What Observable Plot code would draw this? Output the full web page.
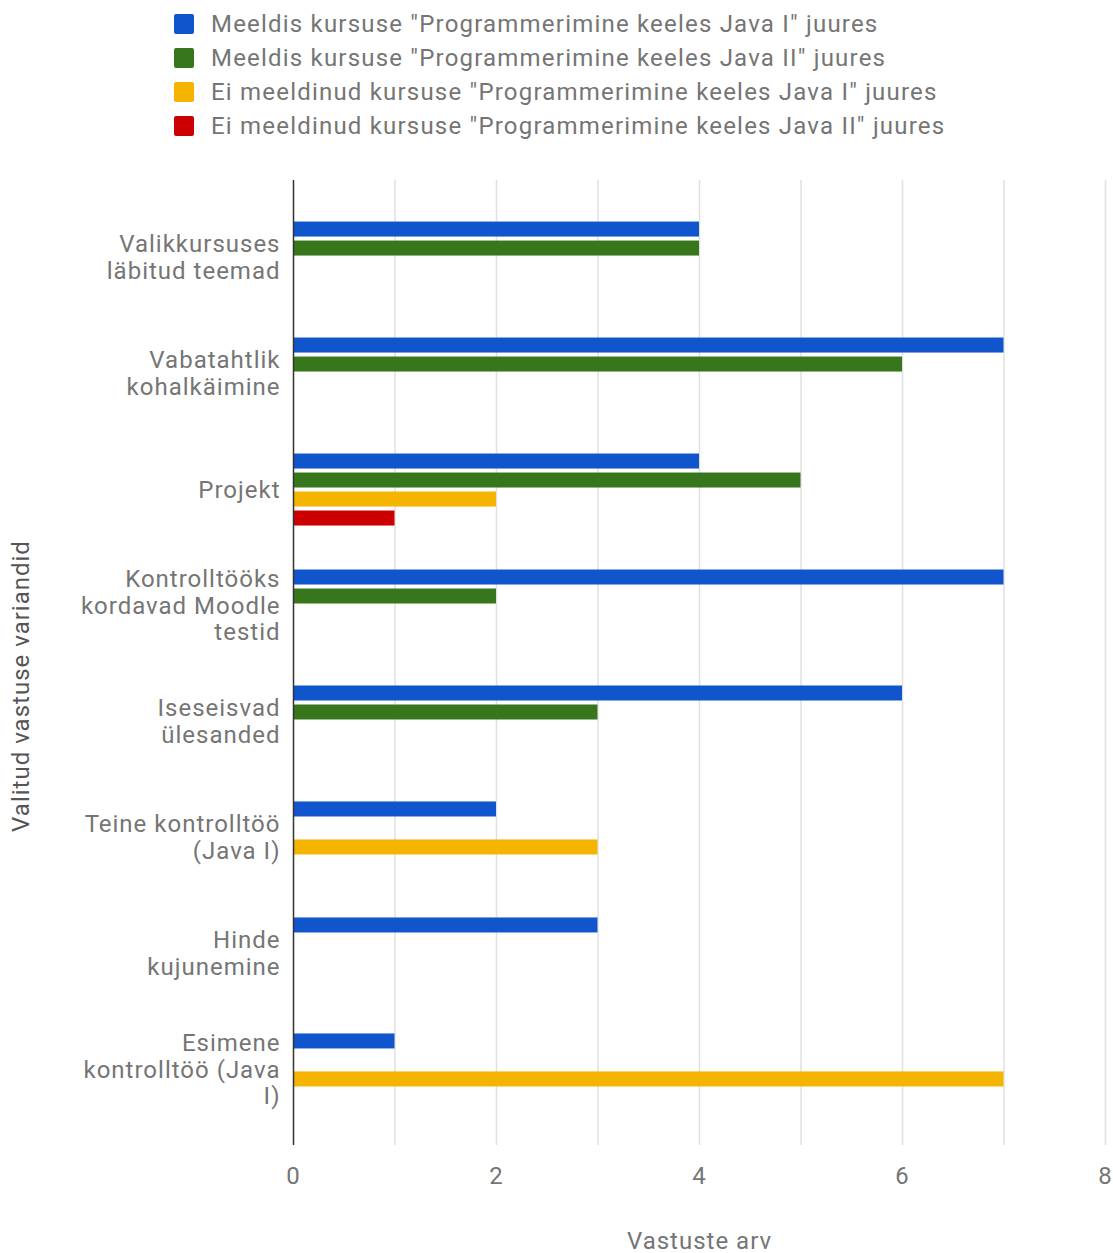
<!DOCTYPE html>
<html>
<head>
<meta charset="utf-8">
<script src="https://cdn.jsdelivr.net/npm/d3@7"></script>
<script src="https://cdn.jsdelivr.net/npm/@observablehq/plot@0.6"></script>
<style>
  html, body { margin: 0; padding: 0; background: #fff; }
  body { font-family: Roboto, "Noto Sans", sans-serif; }
  #wrap { position: relative; width: 1113px; height: 1253px; }
  #legend { position: absolute; left: 174px; top: 7px; }
  .li { display: flex; align-items: center; height: 34px; font-size: 24px; letter-spacing: 1.2px; color: #757575; white-space: nowrap; }
  .sw { width: 20px; height: 20px; border-radius: 2px; margin-right: 17px; flex: none; }
  #ytitle { position: absolute; left: 21px; top: 686px; transform: translate(-50%, -50%) rotate(-90deg); font-size: 24px; letter-spacing: 1px; color: #555; white-space: nowrap; }
  #chart { position: absolute; left: 0; top: 0; }
</style>
</head>
<body>
<div id="wrap">
  <div id="chart"></div>
  <div id="legend"></div>
  <div id="ytitle">Valitud vastuse variandid</div>
</div>
<script>
const categories = [
  "Valikkursuses\nläbitud teemad",
  "Vabatahtlik\nkohalkäimine",
  "Projekt",
  "Kontrolltööks\nkordavad Moodle\ntestid",
  "Iseseisvad\nülesanded",
  "Teine kontrolltöö\n(Java I)",
  "Hinde\nkujunemine",
  "Esimene\nkontrolltöö (Java\nI)"
];
const seriesNames = [
  "Meeldis kursuse \"Programmerimine keeles Java I\" juures",
  "Meeldis kursuse \"Programmerimine keeles Java II\" juures",
  "Ei meeldinud kursuse \"Programmerimine keeles Java I\" juures",
  "Ei meeldinud kursuse \"Programmerimine keeles Java II\" juures"
];
const seriesColors = ["#1155cc", "#38761d", "#f4b400", "#cc0000"];
const likedJava1    = [4, 7, 4, 7, 6, 2, 3, 1];
const likedJava2    = [4, 6, 5, 2, 3, 0, 0, 0];
const dislikedJava1 = [0, 0, 2, 0, 0, 3, 0, 7];
const dislikedJava2 = [0, 0, 1, 0, 0, 0, 0, 0];
const xTicks = [0, 2, 4, 6, 8];
const gridValues = [1, 2, 3, 4, 5, 6, 7, 8];

const seriesValues = [likedJava1, likedJava2, dislikedJava1, dislikedJava2];

// legend
const legend = document.getElementById("legend");
seriesNames.forEach((name, i) => {
  const row = document.createElement("div");
  row.className = "li";
  const sw = document.createElement("span");
  sw.className = "sw";
  sw.style.background = seriesColors[i];
  const t = document.createElement("span");
  t.textContent = name;
  row.appendChild(sw);
  row.appendChild(t);
  legend.appendChild(row);
});

const W = 1113, H = 1253;
const mTop = 180, mBottom = 108;
const pad = 0.32;
const innerH = H - mTop - mBottom;
const step = innerH / (categories.length - pad + 2 * pad);
const bw = step * (1 - pad);
const slot = 19;
const barH = 15;
const gap0 = (bw - 4 * slot) / 2 + (slot - barH) / 2 + 1;

const barMarks = seriesValues.map((vals, j) => {
  const data = categories.map((c, i) => ({cat: c, value: vals[i]})).filter(d => d.value > 0);
  const top = gap0 + j * slot;
  return Plot.barX(data, {
    x: "value", y: "cat", fill: seriesColors[j],
    insetTop: top, insetBottom: bw - top - barH
  });
});

const chart = Plot.plot({
  width: W,
  height: H,
  marginTop: mTop,
  marginBottom: mBottom,
  marginLeft: 293,
  marginRight: 8,
  style: {fontFamily: "Roboto, 'Noto Sans', sans-serif", fontSize: "24px", letterSpacing: "1px", color: "#757575", background: "transparent"},
  x: {domain: [0, 8], ticks: xTicks, tickSize: 0, tickPadding: 21, label: "Vastuste arv", labelAnchor: "center", labelOffset: 103, labelArrow: false},
  y: {domain: categories, padding: pad, round: false, axis: null},
  marks: [
    Plot.ruleX(gridValues, {stroke: "#e0e0e0", strokeWidth: 1.5}),
    ...barMarks,
    Plot.ruleX([0], {stroke: "#333", strokeWidth: 1.5}),
    Plot.text(categories, {y: d => d, text: d => d, frameAnchor: "left", textAnchor: "end", dx: -13, lineHeight: 1.12, fill: "#757575", fontSize: 24})
  ]
});
document.getElementById("chart").appendChild(chart);
</script>
</body>
</html>
